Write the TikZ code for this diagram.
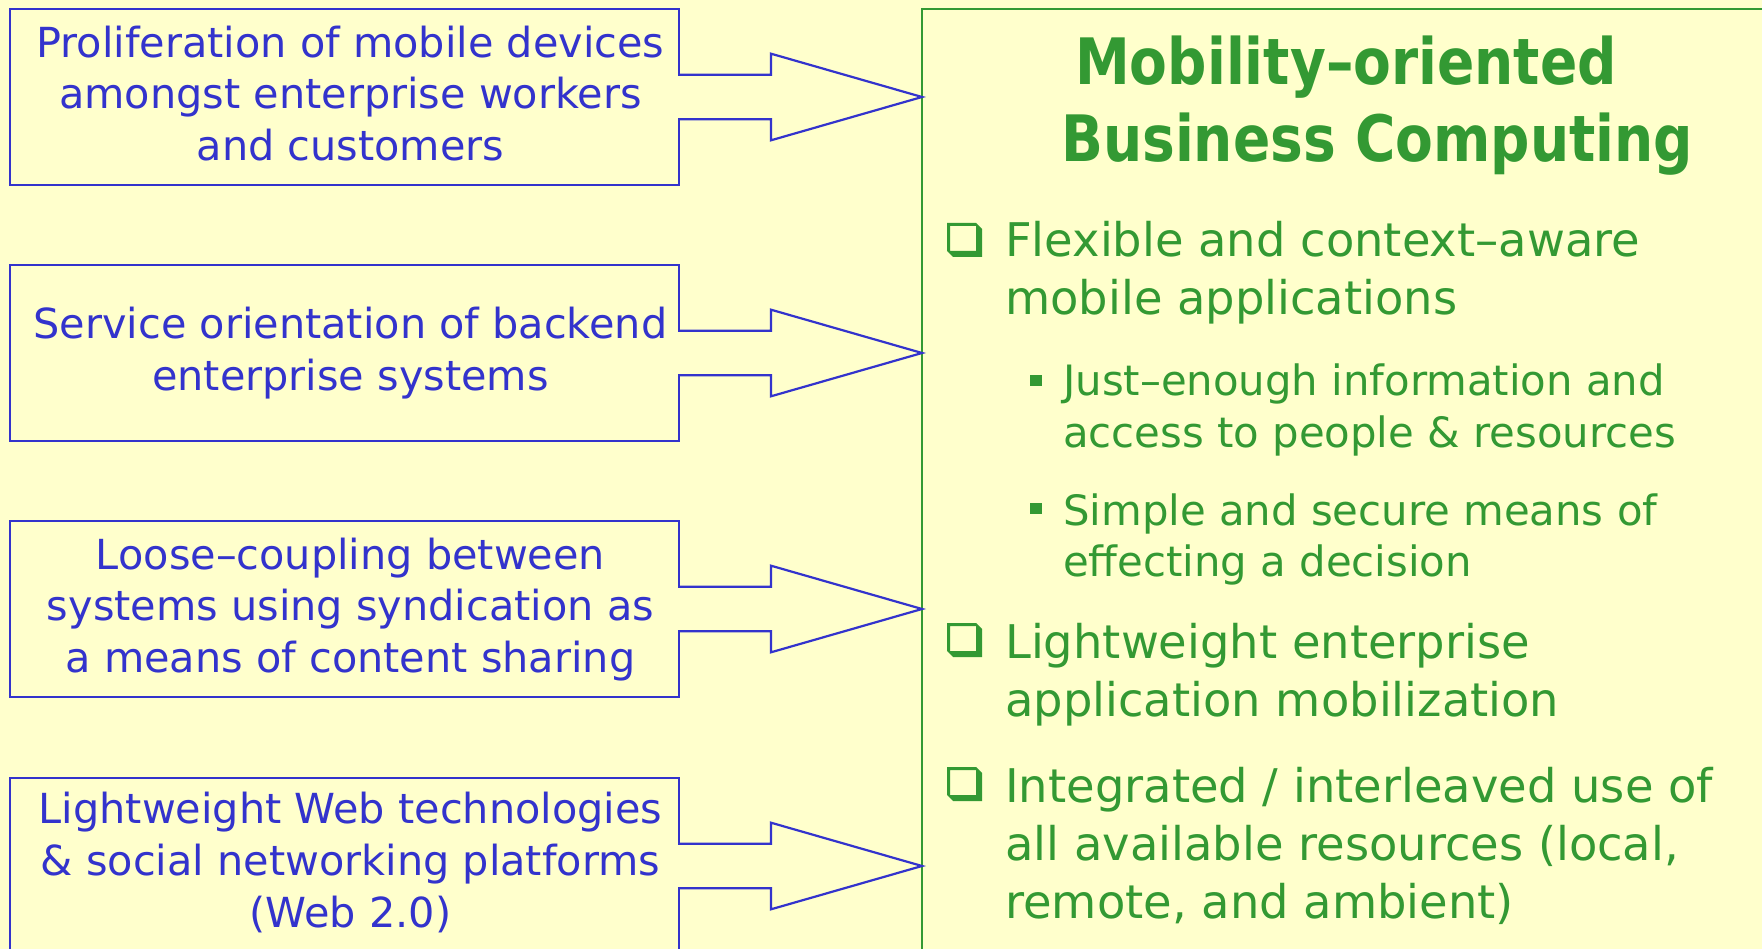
\documentclass[tikz,border=0pt]{standalone}
\usepackage{fontspec}
\setmainfont{DejaVu Sans}
\newfontfamily\headfont[FakeStretch=0.86]{DejaVu Sans}
\usetikzlibrary{calc}

\definecolor{paper}{HTML}{FFFFCC}
\definecolor{ink}{HTML}{3333CC}
\definecolor{leaf}{HTML}{339933}

\tikzset{
  causebox/.style={draw=ink, line width=2.2pt, minimum width=669pt, minimum height=176pt,
    inner sep=0pt, outer sep=0pt, anchor=north west},
  causetext/.style={inner sep=0pt, text=ink, align=center,
    font=\fontsize{41.4}{51.7}\selectfont},
  goalbox/.style={draw=leaf, line width=2.5pt, minimum width=1000pt, minimum height=1100pt,
    inner sep=0pt, outer sep=0pt, anchor=north west},
  fatline/.style={draw=ink, line width=2.2pt},
  headtext/.style={anchor=base west, inner sep=0pt, text=leaf,
    font=\headfont\bfseries\fontsize{64}{77}\selectfont},
  itemtext/.style={anchor=base west, inner sep=0pt, text=leaf,
    font=\fontsize{46.4}{58}\selectfont},
  subtext/.style={anchor=base west, inner sep=0pt, text=leaf,
    font=\fontsize{41.8}{51.5}\selectfont},
}

% block arrow from a cause box to the left side of the goal panel
\newcommand\feedarrow[1]{%
  \fill[paper] ($(#1.east)+(-2,-21)$) rectangle ($(#1.east)+(2,21)$);
  \draw[fatline] ($(#1.east)+(0,-22.3)$) -- ($(#1.east)+(92,-22.3)$)
    -- ($(#1.east)+(92,-43.3)$) -- (#1.east -| goal.west)
    -- ($(#1.east)+(92,43.3)$) -- ($(#1.east)+(92,22.3)$)
    -- ($(#1.east)+(0,22.3)$);
}

% hollow square bullet with a bevelled drop shadow; argument = lower left corner
\newcommand\boxmark[1]{%
  \fill[leaf, even odd rule] (#1) ++(0,-34) -- ++(29,0) -- ++(6,6) -- ++(0,28)
    -- ++(-29,0) -- ++(-6,-6) -- cycle
    (#1) ++(3,-31) rectangle ++(26,25);
}

\begin{document}
\begin{tikzpicture}[x=1pt, y=-1pt]
  \useasboundingbox (0,0) rectangle (1762,949);
  \fill[paper] (0,0) rectangle (1762,949);
  \clip (0,0) rectangle (1762,949);

  % goal panel
  \node[goalbox] (goal) at (922,9) {};

  % driving factors
  \node[causebox] (c1) at (10,9)   {};
  \node[causebox] (c2) at (10,265) {};
  \node[causebox] (c3) at (10,521) {};
  \node[causebox] (c4) at (10,778) {};

  \node[causetext] (t1) at ($(c1.center)+(6,-3.5)$)
    {Proliferation of mobile devices\\ amongst enterprise workers\\ and customers};
  \node[causetext] (t2) at ($(c2.center)+(6,0)$)
    {Service orientation of backend\\ enterprise systems};
  \node[causetext] (t3) at ($(c3.center)+(6,0.5)$)
    {Loose–coupling between\\ systems using syndication as\\ a means of content sharing};
  \node[causetext] (t4) at ($(c4.center)+(6,-3.5)$)
    {Lightweight Web technologies\\ \& social networking platforms\\ (Web 2.0)};

  \feedarrow{c1}
  \feedarrow{c2}
  \feedarrow{c3}
  \feedarrow{c4}

  % heading
  \node[headtext] (head) at (1061,85)
    {\begin{tabular}[t]{@{}l@{}}\hspace{14pt}Mobility–oriented\\ Business Computing\end{tabular}};

  % main points
  \boxmark{947,257}
  \node[itemtext] (p1) at (1005,257)
    {\begin{tabular}[t]{@{}l@{}}Flexible and context–aware\\ mobile applications\end{tabular}};

  \fill[leaf] (1030,375) rectangle (1042,386);
  \node[subtext] (s1) at (1063,396)
    {\begin{tabular}[t]{@{}l@{}}Just–enough information and\\ access to people \& resources\end{tabular}};

  \fill[leaf] (1030,503) rectangle (1042,514);
  \node[subtext] (s2) at (1063,525)
    {\begin{tabular}[t]{@{}l@{}}Simple and secure means of\\ effecting a decision\end{tabular}};

  \boxmark{947,657}
  \node[itemtext] (p2) at (1005,658)
    {\begin{tabular}[t]{@{}l@{}}Lightweight enterprise\\ application mobilization\end{tabular}};

  \boxmark{947,801}
  \node[itemtext] (p3) at (1005,802)
    {\begin{tabular}[t]{@{}l@{}}Integrated / interleaved use of\\ all available resources (local,\\ remote, and ambient)\end{tabular}};
\end{tikzpicture}
\end{document}
